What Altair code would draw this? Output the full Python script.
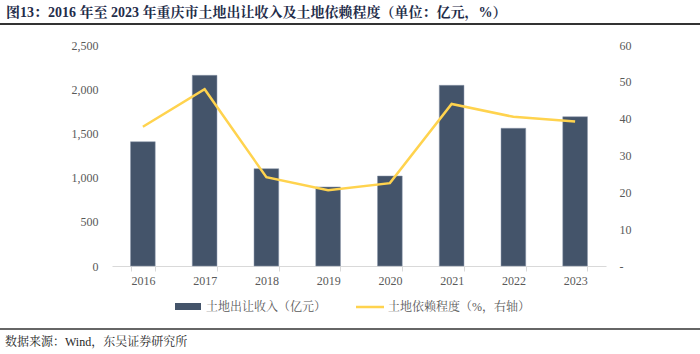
import altair as alt
import pandas as pd

years = ["2016", "2017", "2018", "2019", "2020", "2021", "2022", "2023"]
revenue = [1406, 2157, 1101, 894, 1018, 2044, 1558, 1689]
dependence = [37.8, 48.0, 24.1, 20.6, 22.5, 44.0, 40.5, 39.2]

title_text = "图13：2016 年至 2023 年重庆市土地出让收入及土地依赖程度（单位：亿元，%）"
source_text = "数据来源：Wind，东吴证券研究所"
legend_bar = "土地出让收入（亿元）"
legend_line = "土地依赖程度（%，右轴）"

FONT = "Liberation Serif, Times New Roman, Noto Serif CJK SC, Noto Sans CJK SC"
BAR_COLOR = "#44546A"
LINE_COLOR = "#FFD34E"
LABEL_COLOR = "#595959"

df = pd.DataFrame({"year": years, "revenue": revenue, "dep": dependence})

W, H = 494, 221
LEFT, TOP = 112, 45

x_axis = alt.Axis(
    title=None, labelAngle=0, labelFont=FONT, labelFontSize=12,
    labelColor=LABEL_COLOR, domainColor="#D9D9D9", tickColor="#D9D9D9",
    tickBand="extent", tickSize=5, labelPadding=4, grid=False,
)

bars = alt.Chart(df).mark_bar(color=BAR_COLOR, stroke="#8a97aa", strokeWidth=0.5).encode(
    x=alt.X("year:N", sort=years,
            scale=alt.Scale(paddingInner=0.6, paddingOuter=0.3), axis=x_axis),
    y=alt.Y(
        "revenue:Q",
        scale=alt.Scale(domain=[0, 2500]),
        axis=alt.Axis(
            title=None, values=[0, 500, 1000, 1500, 2000, 2500], format=",.0f",
            labelFont=FONT, labelFontSize=12, labelColor=LABEL_COLOR,
            domain=False, ticks=False, grid=False, labelPadding=14,
        ),
    ),
)

line = alt.Chart(df).mark_line(color=LINE_COLOR, strokeWidth=2.5).encode(
    x=alt.X("year:N", sort=years),
    y=alt.Y(
        "dep:Q",
        scale=alt.Scale(domain=[0, 60]),
        axis=alt.Axis(
            orient="right", title=None, values=[0, 10, 20, 30, 40, 50, 60],
            labelExpr="datum.value == 0 ? '-' : datum.label",
            labelFont=FONT, labelFontSize=12, labelColor=LABEL_COLOR,
            domain=False, ticks=False, grid=False, labelPadding=13,
        ),
    ),
)

one = pd.DataFrame({"t": [0]})

def txt(s, x, y, size=12, bold=False, color="#404040"):
    return alt.Chart(pd.DataFrame({"t": [s]})).mark_text(
        align="left", baseline="middle", font=FONT, fontSize=size,
        fontWeight="bold" if bold else "normal", color=color,
    ).encode(x=alt.value(x - LEFT), y=alt.value(y - TOP), text="t:N")

def hrule(x1, x2, y, color, width):
    return alt.Chart(one).mark_rule(color=color, strokeWidth=width).encode(
        x=alt.value(x1 - LEFT), x2=alt.value(x2 - LEFT), y=alt.value(y - TOP)
    )

title = txt(title_text, 6, 13, size=14, bold=True, color="#1F2D4A")
title_line = hrule(0, 700, 24, "#333333", 2)
source_line = hrule(0, 700, 329, "#333333", 1.5)
source = txt(source_text, 5, 342, size=12, color="#262626")

leg_bar = alt.Chart(one).mark_rect(color=BAR_COLOR).encode(
    x=alt.value(175 - LEFT), x2=alt.value(201 - LEFT),
    y=alt.value(303 - TOP), y2=alt.value(310 - TOP),
)
leg_bar_t = txt(legend_bar, 206, 307, size=12, color=LABEL_COLOR)
leg_line = hrule(356, 384, 307, LINE_COLOR, 2.5)
leg_line_t = txt(legend_line, 388, 307, size=12, color=LABEL_COLOR)

chart = (
    alt.layer(
        bars, line, title, title_line, source_line, source,
        leg_bar, leg_bar_t, leg_line, leg_line_t,
    )
    .resolve_scale(y="independent")
    .properties(
        width=W, height=H, background="white",
        padding={"left": LEFT, "top": TOP, "right": 700 - LEFT - W, "bottom": 354 - TOP - H},
        autosize=alt.AutoSizeParams(type="none"),
    )
    .configure_view(strokeWidth=0, stroke="transparent")
)

chart.save("out.html", embed_options={"renderer": "svg", "actions": False})
